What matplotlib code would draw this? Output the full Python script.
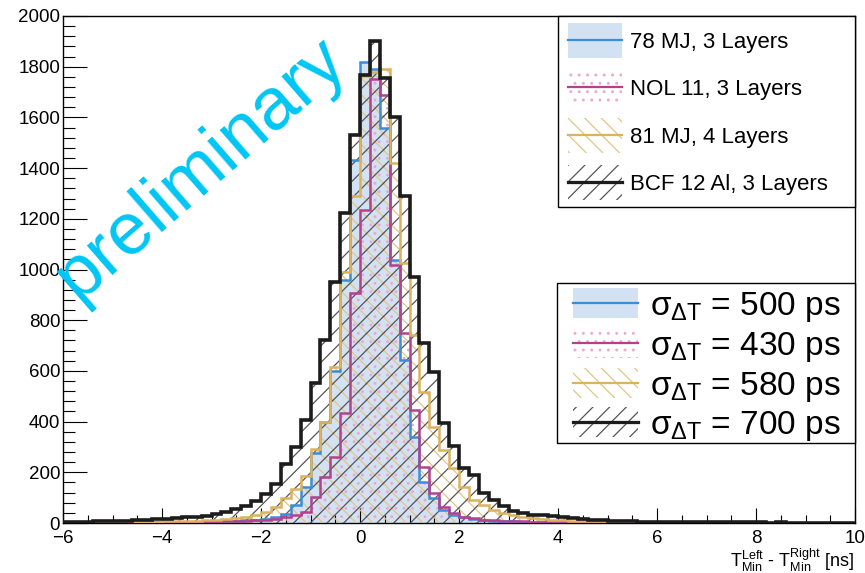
import numpy as np
import matplotlib.pyplot as plt
from matplotlib.patches import Rectangle
from matplotlib.lines import Line2D
from matplotlib.ticker import MultipleLocator

plt.rcParams['font.family'] = ['Liberation Sans', 'DejaVu Sans']
plt.rcParams['mathtext.fontset'] = 'custom'
plt.rcParams['mathtext.rm'] = 'Liberation Sans'
plt.rcParams['mathtext.it'] = 'Liberation Sans:italic'
plt.rcParams['hatch.linewidth'] = 0.9

W, H = 865, 573

# 80 bins of 0.2 ns between -6 and 10 ns
edges = np.linspace(-6, 10, 81)

counts_78mj = [1, 1, 1, 1, 2, 1, 2, 2, 2, 3, 3, 3, 4, 4, 5, 6, 7, 8, 10, 12,
               16, 22, 35, 71, 142, 276, 400, 600, 960, 1432, 1818, 1790, 1558, 1037, 643, 340, 163, 99, 51, 32,
               22, 15, 11, 9, 7, 6, 5, 4, 4, 3, 3, 2, 2, 2, 2, 1, 2, 1, 1, 1,
               1, 1, 1, 1, 2, 3, 4, 4, 3, 1, 1, 1, 0, 1, 0, 0, 1, 0, 0, 0]
counts_nol11 = [1, 1, 1, 2, 1, 2, 2, 2, 2, 3, 3, 3, 4, 4, 5, 5, 6, 7, 8, 10,
                13, 17, 24, 32, 43, 103, 181, 260, 434, 907, 1235, 1750, 1690, 1018, 750, 446, 221, 118, 63, 39,
                25, 18, 13, 10, 8, 7, 6, 5, 4, 4, 3, 3, 2, 2, 2, 2, 1, 2, 1, 1,
                1, 1, 1, 1, 1, 1, 1, 1, 1, 0, 1, 1, 0, 1, 0, 0, 1, 0, 0, 0]
counts_81mj = [2, 2, 3, 2, 3, 3, 4, 4, 5, 5, 6, 7, 8, 9, 11, 13, 16, 20, 25, 32,
               45, 63, 100, 135, 185, 290, 398, 615, 991, 1290, 1763, 1780, 1790, 1420, 1025, 740, 517, 379, 288, 217,
               142, 91, 71, 51, 40, 30, 24, 20, 16, 13, 11, 9, 8, 7, 6, 5, 4, 4, 3, 3,
               3, 2, 2, 3, 2, 2, 1, 2, 1, 1, 2, 1, 1, 1, 0, 1, 1, 0, 1, 0]
counts_bcf12 = [4, 5, 4, 6, 7, 7, 9, 10, 12, 14, 16, 19, 22, 25, 28, 35, 42, 55, 68, 86,
                114, 152, 233, 300, 406, 552, 722, 951, 1223, 1530, 1767, 1900, 1755, 1600, 1290, 970, 712, 596, 394, 304,
                217, 189, 118, 91, 67, 47, 40, 33, 30, 28, 22, 18, 15, 12, 10, 9, 7, 6, 5, 5,
                4, 4, 3, 4, 3, 3, 2, 3, 2, 2, 2, 1, 2, 1, 1, 1, 1, 1, 0, 1]

names = ['78 MJ, 3 Layers', 'NOL 11, 3 Layers', '81 MJ, 4 Layers', 'BCF 12 Al, 3 Layers']
sigma_ps = [500, 430, 580, 700]

line_colors = ['#3b8ed6', '#b2428f', '#dbb25e', '#1c1c1c']
face_colors = ['#d2e2f3', 'none', 'none', 'none']
hatch_colors = ['#d2e2f3', '#eaa9cf', '#e3c587', '#555555']
hatches = [None, '..', '\\\\', '//']
line_widths = [1.8, 1.8, 1.8, 2.6]

fig = plt.figure(figsize=(W / 100, H / 100), dpi=100)
ax = fig.add_axes([63 / W, 1 - 523 / H, 792 / W, 507 / H])

all_counts = [counts_78mj, counts_nol11, counts_81mj, counts_bcf12]

# fills / hatches first, outlines on top
for i, c in enumerate(all_counts):
    ax.stairs(c, edges, fill=True, facecolor=face_colors[i], edgecolor=hatch_colors[i],
              hatch=hatches[i], linewidth=0, zorder=1 + i)
for i, c in enumerate(all_counts):
    ax.stairs(c, edges, fill=False, color=line_colors[i], linewidth=line_widths[i], zorder=6 + i)

ax.set_xlim(-6, 10)
ax.set_ylim(0, 2000)
ax.xaxis.set_major_locator(MultipleLocator(2))
ax.xaxis.set_minor_locator(MultipleLocator(0.5))
ax.yaxis.set_major_locator(MultipleLocator(200))
ax.yaxis.set_minor_locator(MultipleLocator(40))
ax.tick_params(which='both', direction='in', top=False, right=False, width=0.8, colors='black')
ax.tick_params(axis='x', which='major', length=11, pad=5, labelsize=13.5)
ax.tick_params(axis='x', which='minor', length=5.5)
ax.tick_params(axis='y', which='major', length=17.5, pad=2, labelsize=13.5)
ax.tick_params(axis='y', which='minor', length=8.7)
for s in ax.spines.values():
    s.set_linewidth(1.0)

fig.text(855 / W, 1 - 567 / H,
         r'$\mathregular{T^{Left}_{Min}}$ - $\mathregular{T^{Right}_{Min}}$ [ns]',
         ha='right', va='baseline', fontsize=13)

fig.text(0.232, 0.705, 'preliminary', rotation=41, rotation_mode='anchor',
         ha='center', va='center', fontsize=53, color='#00c6f4', zorder=20)


def px(x, y):
    # pixel position (from top-left) -> figure fraction
    return x / W, 1 - y / H


def legend_box(x0, y0, x1, y1):
    fig.add_artist(Rectangle(px(x0, y1), (x1 - x0) / W, (y1 - y0) / H,
                             transform=fig.transFigure, facecolor='white',
                             edgecolor='black', linewidth=1.0, zorder=3))


def legend_entry(i, yc, x0, w, h, text_x, label, fs):
    fig.add_artist(Rectangle(px(x0, yc + h / 2), w / W, h / H, transform=fig.transFigure,
                             facecolor=face_colors[i], edgecolor=hatch_colors[i],
                             hatch=hatches[i], linewidth=0, zorder=4))
    fig.add_artist(Line2D([x0 / W, (x0 + w) / W], [1 - yc / H] * 2, transform=fig.transFigure,
                          color=line_colors[i], linewidth=line_widths[i] * 0.9, zorder=5))
    cap = 0.72 * fs * 100 / 72
    fig.text(text_x / W, 1 - (yc + cap / 2) / H, label, fontsize=fs, va='baseline',
             ha='left', zorder=6)


legend_box(558, 16, 855, 207)
for i, yc in enumerate([40, 87, 135, 182]):
    legend_entry(i, yc, 568, 54, 35, 630, names[i], 16)

legend_box(557, 283, 855, 443)
for i, yc in enumerate([303, 343, 383, 422]):
    legend_entry(i, yc, 573, 65, 30, 650,
                 r'$\mathregular{\sigma_{\Delta T}}$ = %d ps' % sigma_ps[i], 24)

fig.savefig('out.png', dpi=100)
